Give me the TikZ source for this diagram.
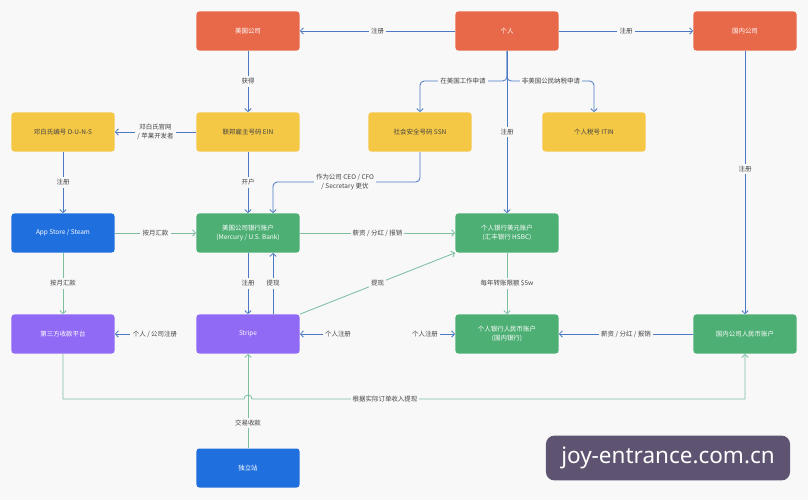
\documentclass[tikz,border=0pt]{standalone}
\usepackage{fontspec}
\setmainfont{Noto Sans CJK SC}
\newfontfamily\markfont{Noto Sans}
\usetikzlibrary{arrows.meta}

\definecolor{bg}{HTML}{F8F8F9}
\definecolor{corange}{HTML}{E8694A}
\definecolor{cyellow}{HTML}{F4C744}
\definecolor{cblue}{HTML}{1F6FDE}
\definecolor{cgreen}{HTML}{4DAF74}
\definecolor{cpurple}{HTML}{9069F4}
\definecolor{arrblue}{HTML}{4B79C4}
\definecolor{arrgreen}{HTML}{7DBF9F}
\definecolor{lblgrey}{HTML}{444444}
\definecolor{markbg}{HTML}{5E5370}

\tikzset{
  box/.style={rectangle, rounded corners=2pt, minimum width=2.575cm,
    minimum height=0.975cm, align=center, text=white,
    font=\fontsize{4.6}{6.5}\selectfont},
  orangebox/.style={box, fill=corange},
  yellowbox/.style={box, fill=cyellow, text=lblgrey},
  bluebox/.style={box, fill=cblue},
  greenbox/.style={box, fill=cgreen},
  purplebox/.style={box, fill=cpurple},
  bluearr/.style={draw=arrblue, line width=0.6pt,
    -{Straight Barb[length=2.2pt,width=4.5pt]}},
  greenarr/.style={draw=arrgreen, line width=0.6pt,
    -{Straight Barb[length=2.2pt,width=4.5pt]}},
  lbl/.style={fill=bg, inner sep=1.5pt, text=lblgrey, align=center,
    font=\fontsize{4.6}{6.5}\selectfont}
}

\begin{document}
\begin{tikzpicture}[x=0.025cm, y=-0.025cm]

  % Canvas
  \fill[bg] (0,0) rectangle (808,500);
  \useasboundingbox (0,0) rectangle (808,500);

  % Top row
  \node[orangebox] (uscorp)   at (248,31) {美国公司};
  \node[orangebox] (person)   at (507,31) {个人};
  \node[orangebox] (cncorp)   at (745,31) {国内公司};

  % Numbers
  \node[yellowbox] (duns) at (63,132)  {邓白氏编号 D-U-N-S};
  \node[yellowbox] (ein)  at (248,132) {联邦雇主号码 EIN};
  \node[yellowbox] (ssn)  at (420,132) {社会安全号码 SSN};
  \node[yellowbox] (itin) at (594,132) {个人税号 ITIN};

  % Accounts
  \node[bluebox]  (appstore) at (63,233)  {App Store / Steam};
  \node[greenbox] (usbank)   at (248,233) {美国公司银行账户\\(Mercury / U.S. Bank)};
  \node[greenbox] (usdacct)  at (507,233) {个人银行美元账户\\(汇丰银行 HSBC)};

  \node[purplebox] (thirdpay) at (63,334)  {第三方收款平台};
  \node[purplebox] (stripe)   at (248,334) {Stripe};
  \node[greenbox]  (rmbacct)  at (507,334) {个人银行人民币账户\\(国内银行)};
  \node[greenbox]  (cnacct)   at (745,334) {国内公司人民币账户};

  \node[bluebox] (shop) at (248,468) {独立站};

  % Free labels with arrows
  \node[lbl] (regboth)  at (155,334) {个人 / 公司注册};
  \node[lbl] (regself)  at (338,334) {个人注册};
  \node[lbl] (regself2) at (425,334) {个人注册};

  % Registrations from the person
  \draw[bluearr] (person) -- (uscorp) node[midway, lbl] {注册};
  \draw[bluearr] (person) -- (cncorp) node[midway, lbl] {注册};
  \draw[bluearr, rounded corners=3pt] (person.south) -- (507,81) -| (ssn.north);
  \draw[bluearr, rounded corners=3pt] (person.south) -- (507,81) -| (itin.north);
  \node[lbl] at (463,81) {在美国工作申请};
  \node[lbl] at (551,81) {非美国公民纳税申请};
  \draw[bluearr] (person) -- (usdacct) node[pos=0.5, lbl] {注册};

  % Company side
  \draw[bluearr] (uscorp) -- (ein) node[midway, lbl] {获得};
  \draw[bluearr] (ein) -- (duns) node[midway, lbl] {邓白氏官网\\/ 苹果开发者};
  \draw[bluearr] (duns) -- (appstore) node[midway, lbl] {注册};
  \draw[bluearr] (ein) -- (usbank) node[midway, lbl] {开户};
  \draw[bluearr, rounded corners=3pt] (ssn.south) |- (273,182)
    -- ([xshift=0.625cm]usbank.north);
  \node[lbl] at (345,182) {作为公司 CEO / CFO\\/ Secretary 更优};
  \draw[bluearr] (cncorp) -- (cnacct) node[pos=0.45, lbl] {注册};

  % Money flows
  \draw[greenarr] (appstore) -- (usbank) node[midway, lbl] {按月汇款};
  \draw[greenarr] (appstore) -- (thirdpay) node[midway, lbl] {按月汇款};
  \draw[greenarr] (usbank) -- (usdacct) node[midway, lbl] {薪资 / 分红 / 报销};
  \draw[bluearr] (usbank) -- (stripe) node[midway, lbl] {注册};
  \draw[bluearr] ([xshift=0.625cm]stripe.north) -- ([xshift=0.625cm]usbank.south)
    node[midway, lbl] {提现};
  \draw[greenarr] (stripe.north east) -- (usdacct.south west)
    node[midway, lbl] {提现};
  \draw[greenarr] (usdacct) -- (rmbacct) node[midway, lbl] {每年转账限额 \$5w};
  \draw[bluearr] (cnacct) -- (rmbacct) node[midway, lbl] {薪资 / 分红 / 报销};

  \draw[bluearr] (regboth) -- (thirdpay);
  \draw[bluearr] (regself) -- (stripe);
  \draw[bluearr] (regself2) -- (rmbacct);

  % Bottom route
  \draw[greenarr] (shop) -- (stripe) node[pos=0.27, lbl] {交易收款};
  \draw[greenarr] (thirdpay.south) |- (244,399)
    arc[start angle=180, end angle=0, radius=0.1cm] -| (cnacct.south);
  \node[lbl] at (385,399) {根据实际订单收入提现};

  % Watermark
  \node[fill=markbg, rounded corners=6pt, minimum width=6.1cm,
    minimum height=1.12cm, text=white, font=\markfont\fontsize{16}{18}\selectfont]
    (mark) at (668,458) {joy-entrance.com.cn};

\end{tikzpicture}
\end{document}
